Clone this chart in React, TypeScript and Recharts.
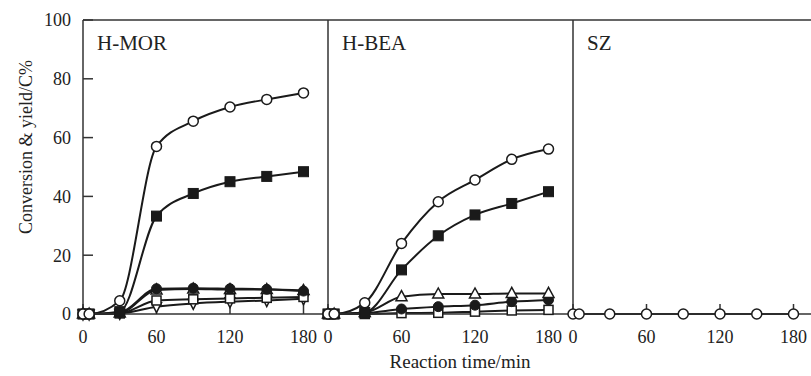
import React from "react";
import { LineChart, Line, XAxis, YAxis, ReferenceLine } from "recharts";

// reaction time (min), shared by all panels
const time = [0, 5, 30, 60, 90, 120, 150, 180];

// H-MOR
const morConv = [0, 0, 4.5, 57, 65.6, 70.4, 73, 75.2];
const morSq = [0, 0, 0.8, 33.3, 41, 45, 46.8, 48.4];
const morDot = [0, 0, 0.5, 8.6, 8.8, 8.6, 8.4, 7.8];
const morTri = [0, 0, 0.3, 8.2, 8.5, 8.3, 8.3, 8.0];
const morOSq = [0, 0, 0.2, 4.6, 5.0, 5.3, 5.5, 5.8];
const morDia = [0, 0, 0.2, 2.5, 3.6, 4.2, 4.6, 5.2];

// H-BEA
const beaConv = [0, 0, 3.8, 24, 38.2, 45.6, 52.6, 56.1];
const beaSq = [0, 0, 0.5, 15, 26.6, 33.7, 37.6, 41.6];
const beaTri = [0, 0, 0.5, 5.9, 6.8, 6.8, 7.0, 7.0];
const beaDot = [0, 0, 0.3, 1.7, 2.5, 3.0, 4.2, 4.8];
const beaOSq = [0, 0, 0, 0.3, 0.4, 0.8, 1.2, 1.4];

// SZ
const szConv = [0, 0, 0, 0, 0, 0, 0, 0];

const xTicks = [0, 60, 120, 180];
const yTicks = [0, 20, 40, 60, 80, 100];

const FONT = "Liberation Serif";
const INK = "#1a1a1a";
const AXIS = "#333";

const openCircle = (p: any) => (
  <circle key={`oc-${p.index}`} cx={p.cx} cy={p.cy} r={5} fill="#fff" stroke={INK} strokeWidth={1.5} />
);
const fillCircle = (p: any) => (
  <circle key={`fc-${p.index}`} cx={p.cx} cy={p.cy} r={5} fill={INK} stroke={INK} strokeWidth={1} />
);
const fillSquare = (p: any) => (
  <rect key={`fs-${p.index}`} x={p.cx - 5} y={p.cy - 5} width={10} height={10} fill={INK} stroke={INK} strokeWidth={1} />
);
const openSquare = (p: any) => (
  <rect key={`os-${p.index}`} x={p.cx - 4.5} y={p.cy - 4.5} width={9} height={9} fill="#fff" stroke={INK} strokeWidth={1.5} />
);
const openTri = (p: any) => (
  <polygon
    key={`ot-${p.index}`}
    points={`${p.cx},${p.cy - 6} ${p.cx - 5.5},${p.cy + 4} ${p.cx + 5.5},${p.cy + 4}`}
    fill="#fff"
    stroke={INK}
    strokeWidth={1.5}
  />
);
const openDown = (p: any) => (
  <polygon
    key={`od-${p.index}`}
    points={`${p.cx - 5},${p.cy - 4} ${p.cx + 5},${p.cy - 4} ${p.cx},${p.cy + 6}`}
    fill="#fff"
    stroke={INK}
    strokeWidth={1.5}
  />
);

type Series = { key: string; values: number[]; dot: (p: any) => any };

const morSeries: Series[] = [
  { key: "dia", values: morDia, dot: openDown },
  { key: "osq", values: morOSq, dot: openSquare },
  { key: "tri", values: morTri, dot: openTri },
  { key: "dot", values: morDot, dot: fillCircle },
  { key: "sq", values: morSq, dot: fillSquare },
  { key: "conv", values: morConv, dot: openCircle },
];

const beaSeries: Series[] = [
  { key: "osq", values: beaOSq, dot: openSquare },
  { key: "dot", values: beaDot, dot: fillCircle },
  { key: "tri", values: beaTri, dot: openTri },
  { key: "sq", values: beaSq, dot: fillSquare },
  { key: "conv", values: beaConv, dot: openCircle },
];

const szSeries: Series[] = [{ key: "conv", values: szConv, dot: openCircle }];

function Panel({ left, label, series, showY }: { left: number; label: string; series: Series[]; showY: boolean }) {
  const rows = time.map((t, i) => {
    const r: any = { t };
    series.forEach((s) => (r[s.key] = s.values[i]));
    return r;
  });
  const tickStyle = { fill: "#222", fontSize: 18, fontFamily: FONT };
  return (
    <div style={{ position: "absolute", left: left - 83, top: 0 }}>
      <LineChart width={333} height={376} data={rows} margin={{ top: 20, right: 5, bottom: 32, left: 0 }}>
        <XAxis
          dataKey="t"
          type="number"
          domain={[0, 200]}
          ticks={xTicks}
          height={30}
          tickSize={-10}
          tickMargin={26}
          axisLine={{ stroke: AXIS, strokeWidth: 1.5 }}
          tickLine={{ stroke: AXIS, strokeWidth: 1.5 }}
          tick={tickStyle}
        />
        <YAxis
          type="number"
          domain={[0, 100]}
          ticks={yTicks}
          width={83}
          tickSize={-10}
          tickMargin={22}
          axisLine={{ stroke: AXIS, strokeWidth: 1.5 }}
          tickLine={{ stroke: AXIS, strokeWidth: 1.5 }}
          tick={showY ? tickStyle : false}
        />
        <ReferenceLine y={100} stroke={AXIS} strokeWidth={1.5} />
        {series.map((s) => (
          <Line
            key={s.key}
            dataKey={s.key}
            type="monotone"
            stroke={INK}
            strokeWidth={2}
            dot={s.dot}
            activeDot={false}
            isAnimationActive={false}
          />
        ))}
      </LineChart>
      <div
        style={{
          position: "absolute",
          left: 97,
          top: 31,
          fontSize: 21,
          color: "#222",
          whiteSpace: "nowrap",
        }}
      >
        {label}
      </div>
    </div>
  );
}

export default function App() {
  return (
    <div
      style={{
        position: "fixed",
        left: 0,
        top: 0,
        width: 811,
        height: 376,
        overflow: "hidden",
        background: "#fff",
        fontFamily: FONT,
      }}
    >
      <Panel left={83} label="H-MOR" series={morSeries} showY={true} />
      <Panel left={328} label="H-BEA" series={beaSeries} showY={false} />
      <Panel left={573} label="SZ" series={szSeries} showY={false} />
      <div
        style={{
          position: "absolute",
          left: 26,
          top: 147,
          transform: "translate(-50%, -50%) rotate(-90deg)",
          fontSize: 18,
          color: "#222",
          whiteSpace: "nowrap",
        }}
      >
        Conversion &amp; yield/C%
      </div>
      <div
        style={{
          position: "absolute",
          left: 460,
          top: 362,
          transform: "translate(-50%, -50%)",
          fontSize: 19,
          color: "#222",
          whiteSpace: "nowrap",
        }}
      >
        Reaction time/min
      </div>
    </div>
  );
}
